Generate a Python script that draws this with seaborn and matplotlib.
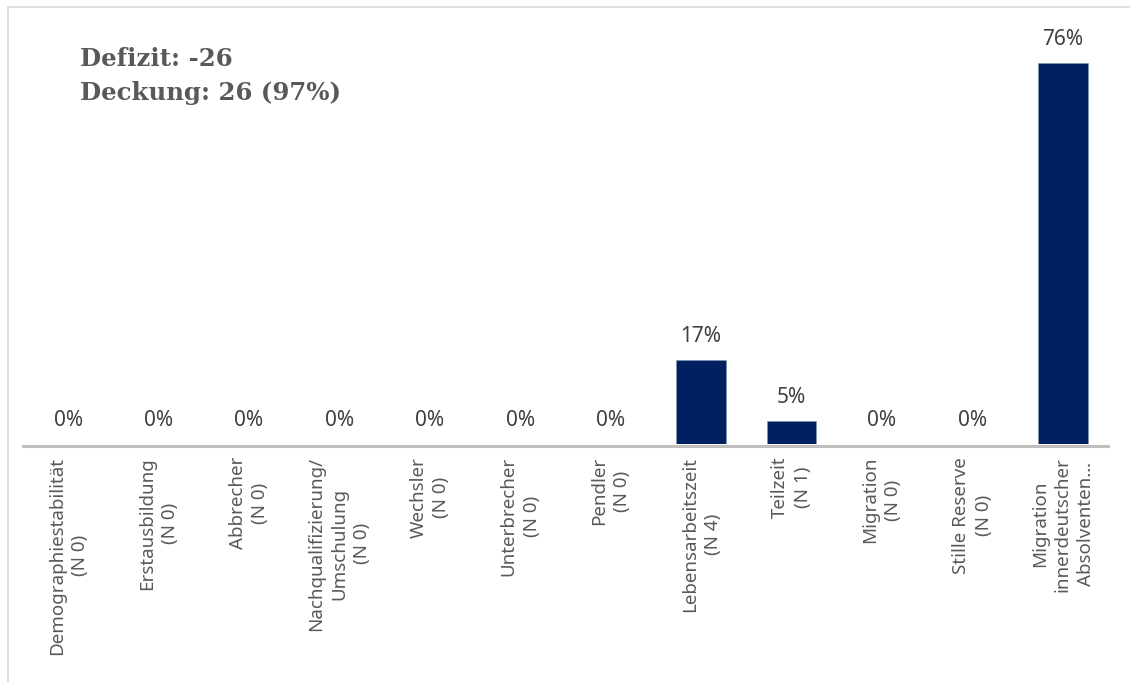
import matplotlib
matplotlib.use("Agg")
import matplotlib.pyplot as plt
import seaborn as sns
import pandas as pd
from matplotlib.patches import Rectangle

# ---- data ----
categories = [
    "Demographiestabilität\n(N 0)",
    "Erstausbildung\n(N 0)",
    "Abbrecher\n(N 0)",
    "Nachqualifizierung/\nUmschulung\n(N 0)",
    "Wechsler\n(N 0)",
    "Unterbrecher\n(N 0)",
    "Pendler\n(N 0)",
    "Lebensarbeitszeit\n(N 4)",
    "Teilzeit\n(N 1)",
    "Migration\n(N 0)",
    "Stille Reserve\n(N 0)",
    "Migration\ninnerdeutscher\nAbsolventen…",
]
values = [0, 0, 0, 0, 0, 0, 0, 16.8, 4.6, 0, 0, 76.0]
summary_lines = ["Defizit: -26", "Deckung: 26 (97%)"]

df = pd.DataFrame({"cat": categories, "val": values})

sns.set_theme(style="white")
plt.rcParams["font.family"] = ["Noto Sans", "DejaVu Sans"]

fig = plt.figure(figsize=(11.3, 6.82), dpi=100)
ax = fig.add_axes([23 / 1130, 238 / 682, 1085 / 1130, 401 / 682])

sns.barplot(data=df, x="cat", y="val", color="#002060", width=0.55,
            saturation=1, ax=ax, edgecolor="#8496B0", linewidth=0.4)

ax.set_xlim(-0.5, 11.5)
ax.set_ylim(0, 80)
ax.set_xlabel("")
ax.set_ylabel("")
ax.set_yticks([])
for s in ["top", "right", "left"]:
    ax.spines[s].set_visible(False)
ax.spines["bottom"].set_color("#BFBFBF")
ax.spines["bottom"].set_linewidth(2.2)
ax.spines["bottom"].set_position(("outward", 1.2))

ax.tick_params(axis="x", length=0, pad=8)
for lbl in ax.get_xticklabels():
    lbl.set_rotation(90)
    lbl.set_ha("center")
    lbl.set_va("top")
    lbl.set_multialignment("center")
    lbl.set_fontsize(13.5)
    lbl.set_color("#595959")
    lbl.set_linespacing(1.35)

for i, v in enumerate(values):
    ax.annotate(f"{v:.0f}%", (i, v), xytext=(0, 17), textcoords="offset points",
                ha="center", va="center", fontsize=15, color="#404040")

fig.text(80 / 1130, 1 - 59 / 682, summary_lines[0], fontsize=17.6, fontweight="bold",
         family=["DejaVu Serif"], color="#595959", va="center", ha="left")
fig.text(80 / 1130, 1 - 93 / 682, summary_lines[1], fontsize=17.6, fontweight="bold",
         family=["DejaVu Serif"], color="#595959", va="center", ha="left")

fig.patches.append(Rectangle((8 / 1130, -0.1), 1.2, 1 - 7 / 682 + 0.1,
                             transform=fig.transFigure, fill=False,
                             edgecolor="#D9D9D9", linewidth=1.2))

fig.savefig("out.png", dpi=100)
